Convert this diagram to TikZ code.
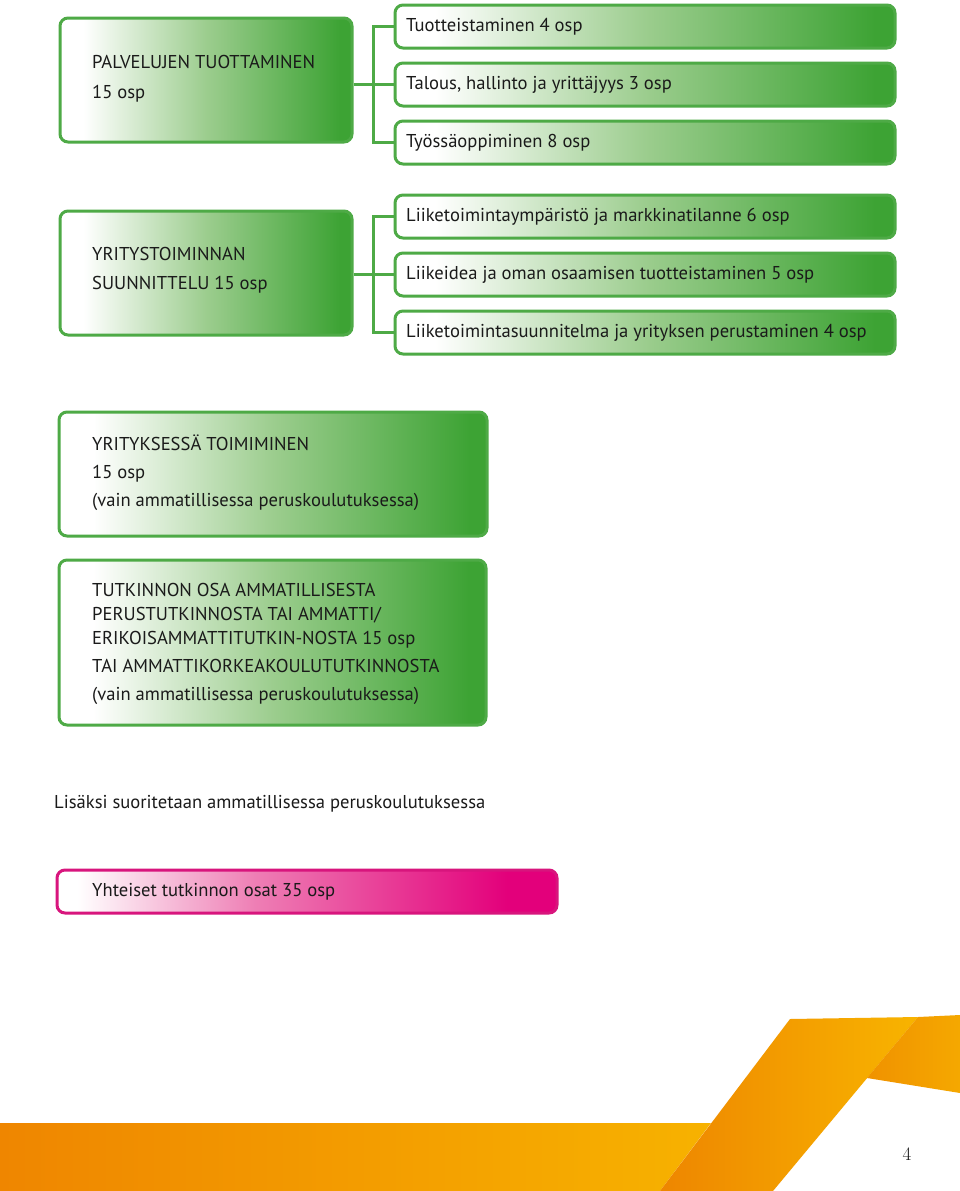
\documentclass[tikz,border=0pt]{standalone}
\usepackage{fontspec}
\newfontfamily\bodyfont{PT Sans}
\definecolor{gdark}{HTML}{3DA334}
\definecolor{gmid}{HTML}{9CCD8E}
\definecolor{gline}{HTML}{4EAA46}
\definecolor{pdark}{HTML}{E3007B}
\definecolor{pmid}{HTML}{EE7DB4}
\definecolor{pline}{HTML}{D8157D}
\definecolor{txt}{HTML}{1A1A1A}
\definecolor{oA}{RGB}{239,134,0}
\definecolor{oB}{RGB}{247,178,0}
\definecolor{oC}{RGB}{238,134,0}
\definecolor{oD}{RGB}{248,180,0}
\definecolor{oE}{RGB}{240,146,0}
\definecolor{oF}{RGB}{245,168,0}
\pgfdeclarehorizontalshading{gshade}{100bp}{color(0bp)=(white); color(25bp)=(white); color(29bp)=(white); color(50bp)=(gmid); color(73bp)=(gdark); color(100bp)=(gdark)}
\pgfdeclarehorizontalshading{pshade}{100bp}{color(0bp)=(white); color(25bp)=(white); color(27bp)=(white); color(45bp)=(pmid); color(70bp)=(pdark); color(100bp)=(pdark)}
\tikzset{
  gbox/.style={draw=gline, line width=3pt, rounded corners=8pt, shading=gshade, shade, inner sep=0pt, anchor=north west},
  pbox/.style={draw=pline, line width=3pt, rounded corners=8pt, shading=pshade, shade, inner sep=0pt, anchor=north west},
  lbl/.style={font=\bodyfont\fontsize{18.6}{24}\selectfont, text=txt, anchor=west, align=left, inner sep=0pt},
  conn/.style={draw=gline, line width=3pt}
}
\begin{document}
\begin{tikzpicture}[x=1pt, y=-1pt]
\useasboundingbox (0,0) rectangle (960,1191);
\fill[white] (0,0) rectangle (960,1191);

% Group 1
\node[gbox, minimum width=292pt, minimum height=124pt] (p1) at (58.5,16.5) {};
\node[lbl] (p1t) at (92,79) {PALVELUJEN TUOTTAMINEN\\[6pt]15 osp};
\node[gbox, minimum width=500pt, minimum height=43pt] (s1) at (393.5,3.5) {};
\node[gbox, minimum width=500pt, minimum height=43pt] (s2) at (393.5,61.5) {};
\node[gbox, minimum width=500pt, minimum height=43pt] (s3) at (393.5,119.5) {};
\node[lbl] (s1t) at (406,26.5) {Tuotteistaminen 4 osp};
\node[lbl] (s2t) at (406,84.5) {Talous, hallinto ja yrittäjyys 3 osp};
\node[lbl] (s3t) at (406,142.5) {Työssäoppiminen 8 osp};
\draw[conn] (s1.west) -- ++(-20,0) |- (s3.west);
\draw[conn] (p1.east |- s2.west) -- (s2.west);

% Group 2
\node[gbox, minimum width=292pt, minimum height=124pt] (p2) at (58.5,209.5) {};
\node[lbl] (p2t) at (92,270) {YRITYSTOIMINNAN\\[5pt]SUUNNITTELU 15 osp};
\node[gbox, minimum width=500pt, minimum height=43pt] (s4) at (393.5,193.5) {};
\node[gbox, minimum width=500pt, minimum height=43pt] (s5) at (393.5,251.5) {};
\node[gbox, minimum width=500pt, minimum height=43pt] (s6) at (393.5,309.5) {};
\node[lbl] (s4t) at (406,216.5) {Liiketoimintaympäristö ja markkinatilanne 6 osp};
\node[lbl] (s5t) at (406,274.5) {Liikeidea ja oman osaamisen tuotteistaminen 5 osp};
\node[lbl] (s6t) at (406,332.5) {Liiketoimintasuunnitelma ja yrityksen perustaminen 4 osp};
\draw[conn] (s4.west) -- ++(-20,0) |- (s6.west);
\draw[conn] (p2.east |- s5.west) -- (s5.west);

% Box 3
\node[gbox, minimum width=428pt, minimum height=124pt] (p3) at (57.5,410.5) {};
\node[lbl] (p3t) at (92,473) {YRITYKSESSÄ TOIMIMINEN\\[4pt]15 osp\\[4pt](vain ammatillisessa peruskoulutuksessa)};

% Box 4
\node[gbox, minimum width=427pt, minimum height=165pt] (p4) at (57.5,558.5) {};
\node[lbl] (p4t) at (92,644) {TUTKINNON OSA AMMATILLISESTA\\PERUSTUTKINNOSTA TAI AMMATTI/\\ERIKOISAMMATTITUTKIN-NOSTA 15 osp\\[4pt]TAI AMMATTIKORKEAKOULUTUTKINNOSTA\\[4pt](vain ammatillisessa peruskoulutuksessa)};

% Extra
\node[lbl] (lis) at (54,804) {Lisäksi suoritetaan ammatillisessa peruskoulutuksessa};
\node[pbox, minimum width=500pt, minimum height=43pt] (pk) at (55.5,868.5) {};
\node[lbl] (pkt) at (92,892) {Yhteiset tutkinnon osat 35 osp};

% Orange decoration
\shade[left color=oA, right color=oB]
  (0,1123) -- (711,1123) -- (660,1191) -- (0,1191) -- cycle;
\shade[left color=oC, right color=oD]
  (790,1019) -- (918,1017) -- (773,1191) -- (660,1191) -- cycle;
\shade[left color=oE, right color=oF]
  (918,1017) -- (960,1015) -- (960,1093) -- (867,1078) -- cycle;
\node[font=\fontsize{19}{22}\selectfont, text=txt] (pg) at (907,1154) {4};
\end{tikzpicture}
\end{document}
